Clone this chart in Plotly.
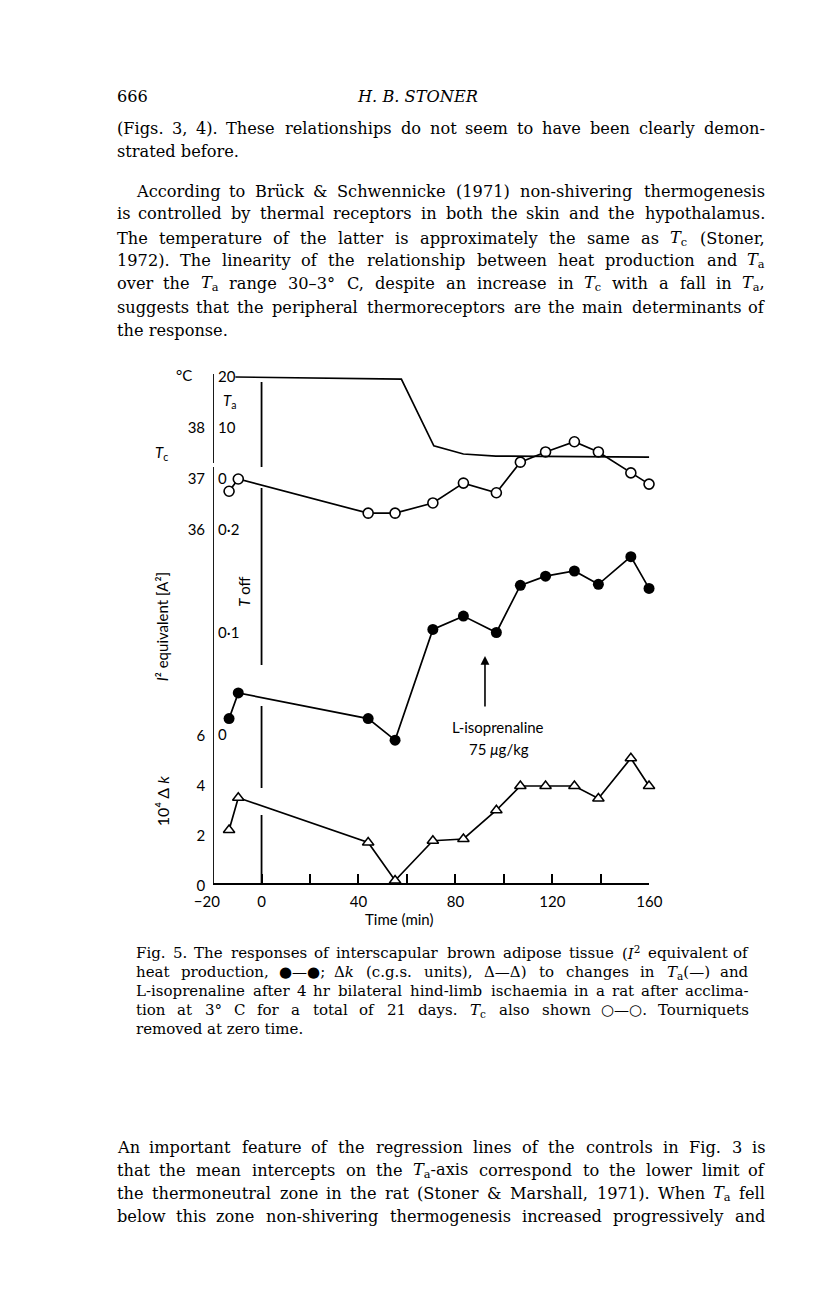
import re
import plotly.graph_objects as go

W, H = 816, 1296

# readings (time in min) taken off the figure
t_obs = [-13.4, -9.6, 44.0, 55.1, 70.7, 83.3, 96.9, 106.8, 117.2, 129.1, 139.0, 152.4, 159.9]
tc = [36.76, 37.00, 36.33, 36.33, 36.53, 36.92, 36.73, 37.33, 37.53, 37.73, 37.53, 37.12, 36.90]
i2 = [0.016, 0.041, 0.016, -0.005, 0.103, 0.116, 0.100, 0.146, 0.155, 0.160, 0.147, 0.174, 0.143]
dk = [2.24, 3.53, 1.74, 0.22, 1.81, 1.88, 3.03, 4.00, 4.00, 4.00, 3.50, 5.11, 4.00]
t_ta = [-10.8, 57.7, 71.1, 83.3, 96.7, 160.0]
ta = [20.0, 19.6, 6.5, 4.9, 4.5, 4.3]

x_ticks = [-20, 0, 20, 40, 60, 80, 100, 120, 140, 160]
x_labels = ["\u221220\u2007\u00a0", "0", "", "40", "", "80", "", "120", "", "160"]
tc_ticks = [36, 37, 38]
ta_ticks = [0, 10, 20]
i2_ticks = [0, 0.1, 0.2]
i2_labels = ["0", "0\u00b71", "0\u00b72"]
dk_ticks = [0, 2, 4, 6]

SERIF = "DejaVu Serif"
SANS = "Lato"
SPINE = 202      # pixel column of the time axis start (-20 min)
X_END = 656      # pixel column of 160 min


def px(x):
    return x / W


def py(y):
    return 1 - y / H


def yspan(p_bot, p_top, v_ref, p_ref, ppu):
    # domain in paper units + matching range so that v_ref sits at pixel row p_ref
    dom = [py(p_bot), py(p_top)]
    rng = [v_ref - (p_bot - p_ref) / ppu, v_ref + (p_ref - p_top) / ppu]
    return dom, rng


fig = go.Figure()

line = dict(color="black", width=1.7)
fig.add_trace(go.Scatter(x=t_ta, y=ta, yaxis="y4", mode="lines", line=line, cliponaxis=False))
fig.add_trace(go.Scatter(x=t_obs, y=tc, yaxis="y3", mode="lines+markers", line=line, cliponaxis=False,
                         marker=dict(symbol="circle", size=10, color="white", line=dict(color="black", width=1.6))))
fig.add_trace(go.Scatter(x=t_obs, y=i2, yaxis="y2", mode="lines+markers", line=line, cliponaxis=False,
                         marker=dict(symbol="circle", size=11, color="black")))
fig.add_trace(go.Scatter(x=t_obs, y=dk, yaxis="y", mode="lines+markers", line=line, cliponaxis=False,
                         marker=dict(symbol="triangle-up", size=10, color="white", line=dict(color="black", width=1.5))))

tickfont = dict(family=SANS, size=15, color="black")
common = dict(showgrid=False, zeroline=False, showline=False, ticks="", anchor="free",
              position=px(SPINE), tickfont=tickfont, fixedrange=True)

dk_dom, dk_rng = yspan(895, 725, 0, 886, 25)
i2_dom, i2_rng = yspan(752, 518, 0, 735, 1025)
tc_dom, tc_rng = yspan(545, 415, 37, 479, 51)
ta_dom, ta_rng = yspan(490, 365, 0, 479, 5.1)

fig.update_layout(
    width=W, height=H,
    margin=dict(l=0, r=0, t=0, b=0),
    paper_bgcolor="white", plot_bgcolor="rgba(0,0,0,0)",
    showlegend=False,
    xaxis=dict(domain=[px(SPINE), px(X_END)], range=[-20, 160], anchor="free", position=py(884),
               showgrid=False, zeroline=False, showline=True, linecolor="black", linewidth=1.8,
               ticks="inside", ticklen=9, tickwidth=1.6, tickcolor="black",
               tickvals=x_ticks, ticktext=x_labels, tickfont=tickfont, ticklabelstandoff=4),
    yaxis=dict(domain=dk_dom, range=dk_rng, tickvals=dk_ticks, side="left", ticklabelstandoff=8, **common),
    yaxis2=dict(domain=i2_dom, range=i2_rng, tickvals=i2_ticks, ticktext=i2_labels, side="right",
                ticklabelstandoff=4, **common),
    yaxis3=dict(domain=tc_dom, range=tc_rng, tickvals=tc_ticks, side="left", ticklabelstandoff=8, **common),
    yaxis4=dict(domain=ta_dom, range=ta_rng, tickvals=ta_ticks, side="right", ticklabelstandoff=4, **common),
)

# spine and the broken "T off" line at zero time
for y0, y1 in [(374, 463), (467, 884)]:
    fig.add_shape(type="line", xref="x", yref="paper", x0=-20, x1=-20, y0=py(y0), y1=py(y1),
                  line=dict(color="black", width=1.8))
for y0, y1 in [(382, 467), (488, 665), (706, 788), (815, 884)]:
    fig.add_shape(type="line", xref="x", yref="paper", x0=0, x1=0, y0=py(y0), y1=py(y1),
                  line=dict(color="black", width=1.8))

ann = []


def text(x, y, s, size=15, family=SANS, xanchor="center", angle=0):
    ann.append(dict(x=px(x), y=py(y), xref="paper", yref="paper", text=s, showarrow=False,
                    xanchor=xanchor, yanchor="middle", textangle=angle, borderpad=0,
                    font=dict(family=family, size=size, color="black")))


# rough advance widths (em) of DejaVu Serif, used to spread words over a justified line
EM = dict(zip("abcdefghijklmnopqrstuvwxyz",
              [.596, .640, .560, .640, .592, .370, .640, .644, .320, .310, .606, .320, .948,
               .644, .602, .640, .640, .478, .513, .402, .644, .565, .856, .564, .565, .527]))
EM.update(dict(zip("ABCDEFGHIJKLMNOPQRSTUVWXYZ",
                   [.722, .735, .765, .802, .730, .694, .799, .872, .395, .401, .747, .664, 1.024,
                    .875, .820, .673, .820, .753, .685, .667, .843, .722, 1.028, .712, .660, .695])))
EM.update({c: .636 for c in "0123456789"})
EM.update({",": .318, ".": .318, "(": .390, ")": .390, "-": .338, "&": .890, ";": .337,
           ":": .337, "\u00b0": .500, "\u2013": .500, "\u2014": 1.0, "\u00fc": .644,
           "\u0394": .722, "\u25cf": .70, "\u25cb": .70})
FUDGE = 1.06


def est(word):
    w = 0.0
    for part in re.split(r"(<su[bp]>.*?</su[bp]>)", word):
        scale = 0.7 if part.startswith("<su") else 1.0
        for c in re.sub("<[^>]+>", "", part):
            w += EM.get(c, 0.6) * scale
    return w * FUDGE


def justified(s, x0, x1, y, size):
    words = s.split(" ")
    widths = [est(w) * size for w in words]
    gap = (x1 - x0 - sum(widths)) / (len(words) - 1)
    x = x0
    for i, w in enumerate(words):
        w_html = w.replace("&", "&amp;")
        if i == 0:
            text(x0, y, w_html, size, SERIF, "left")
        elif i == len(words) - 1:
            text(x1, y, w_html, size, SERIF, "right")
        else:
            text(x + widths[i] / 2, y, w_html, size, SERIF, "center")
        x += widths[i] + gap


# chart labels
text(172, 375, "\u00b0C")
text(219, 401, "<i>T</i><sub>a</sub>")
text(148, 453, "<i>T</i><sub>c</sub>")
text(149, 627, "<i>I</i>\u00b2 equivalent [A\u00b2]", angle=-90)
text(234, 592, "<i>T</i> off", angle=-90)
text(149, 801, "10\u2074 \u0394 <i>k</i>", size=16, angle=-90)
text(499, 727, "L-isoprenaline")
text(500, 749, "75 <i>\u03bc</i>g/kg")
text(396, 919, "Time (min)")
ann.append(dict(x=px(485), y=py(656), xref="paper", yref="paper", ax=0, ay=52, axref="pixel",
                ayref="pixel", text="", showarrow=True, arrowhead=2, arrowsize=1.1, arrowwidth=1.6,
                arrowcolor="black"))

# page text
BODY = 16.2
L0, R0 = 101, 777
text(L0, 96, "666", BODY, SERIF, "left")
text(415, 96, "<i>H. B. STONER</i>", BODY, SERIF)
justified("(Figs. 3, 4). These relationships do not seem to have been clearly demon-", L0, R0, 129, BODY)
text(L0, 152, "strated before.", BODY, SERIF, "left")
justified("According to Br\u00fcck & Schwennicke (1971) non-shivering thermogenesis", 121, R0, 191, BODY)
justified("is controlled by thermal receptors in both the skin and the hypothalamus.", L0, R0, 214, BODY)
justified("The temperature of the latter is approximately the same as <i>T</i><sub>c</sub> (Stoner,",
          L0, R0, 238, BODY)
justified("1972). The linearity of the relationship between heat production and <i>T</i><sub>a</sub>",
          L0, R0, 261, BODY)
justified("over the <i>T</i><sub>a</sub> range 30\u20133\u00b0 C, despite an increase in <i>T</i><sub>c</sub> "
          "with a fall in <i>T</i><sub>a</sub>,", L0, R0, 284, BODY)
justified("suggests that the peripheral thermoreceptors are the main determinants of", L0, R0, 307, BODY)
text(L0, 330, "the response.", BODY, SERIF, "left")

CAP = 15
L1, R1 = 121, 761
justified("Fig. 5. The responses of interscapular brown adipose tissue (<i>I</i><sup>2</sup> equivalent of",
          L1, R1, 953, CAP)
justified("heat production, \u25cf\u2014\u25cf; \u0394<i>k</i> (c.g.s. units), \u0394\u2014\u0394) to changes in "
          "<i>T</i><sub>a</sub>(\u2014) and", L1, R1, 972, CAP)
justified("L-isoprenaline after 4 hr bilateral hind-limb ischaemia in a rat after acclima-", L1, R1, 991, CAP)
justified("tion at 3\u00b0 C for a total of 21 days. <i>T</i><sub>c</sub> also shown \u25cb\u2014\u25cb. Tourniquets",
          L1, R1, 1010, CAP)
text(L1, 1029, "removed at zero time.", CAP, SERIF, "left")

justified("An important feature of the regression lines of the controls in Fig. 3 is", L0, R0, 1147, BODY)
justified("that the mean intercepts on the <i>T</i><sub>a</sub>-axis correspond to the lower limit of",
          L0, R0, 1170, BODY)
justified("the thermoneutral zone in the rat (Stoner & Marshall, 1971). When <i>T</i><sub>a</sub> fell",
          L0, R0, 1193, BODY)
justified("below this zone non-shivering thermogenesis increased progressively and", L0, R0, 1216, BODY)

fig.update_layout(annotations=ann)
# the page body has a default 8px margin; drop it so paper pixels line up with the window
fig.write_html("out.html", config={"displayModeBar": False},
               post_script="document.body.style.margin='0px';")
